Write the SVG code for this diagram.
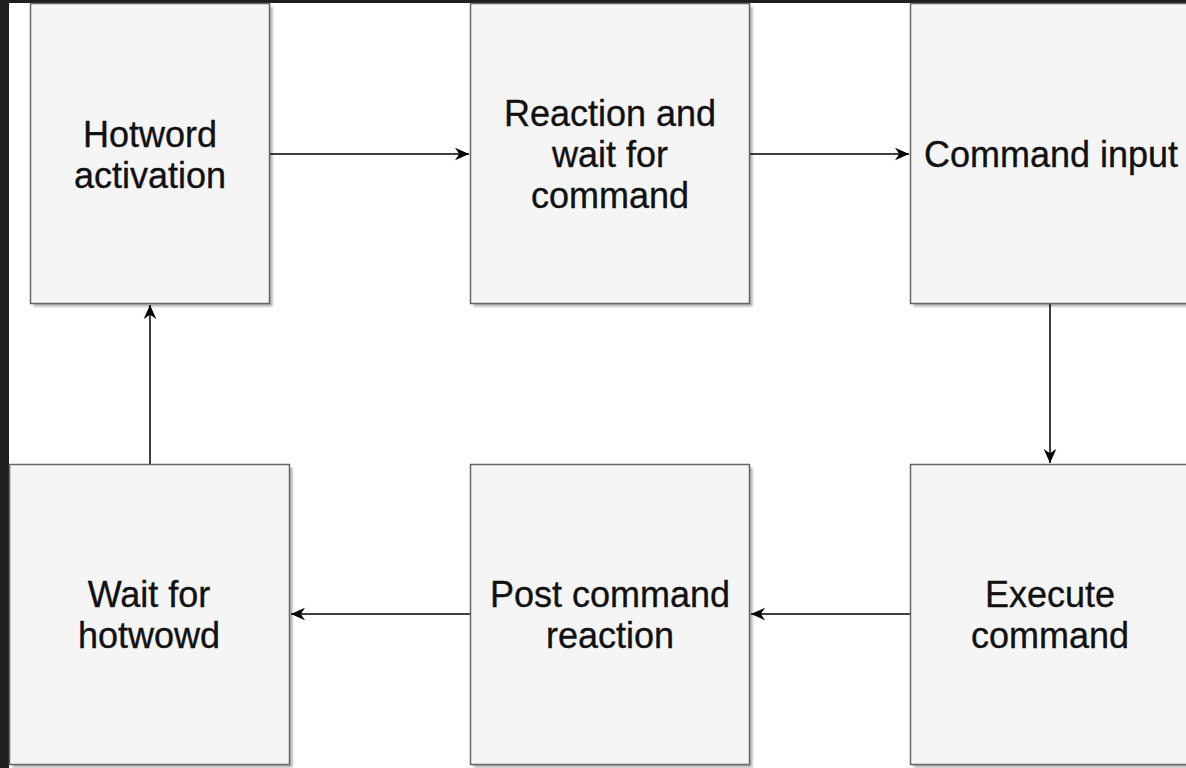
<svg xmlns="http://www.w3.org/2000/svg" width="1186" height="768" viewBox="0 0 1186 768">
  <defs>
    <style>
      .box { fill: #f5f5f5; stroke: #666666; stroke-width: 1.5; }
      .shadow { fill: #000000; opacity: 0.3; }
      .label { font-family: "Liberation Sans", Arial, Helvetica, sans-serif; font-size: 36px; fill: #111111; stroke: #111111; stroke-width: 0.35; text-anchor: middle; }
      .edge { stroke: #000000; stroke-width: 1.5; fill: none; }
    </style>
    <marker id="arrow" markerWidth="14" markerHeight="14" refX="10" refY="5" orient="auto" markerUnits="userSpaceOnUse" viewBox="0 0 10 10">
      <path d="M0,0.5 L10,5 L0,9.5 L3,5 Z" fill="#000000"/>
    </marker>
    <filter id="soft" x="-5%" y="-5%" width="110%" height="110%">
      <feGaussianBlur stdDeviation="0.8"/>
    </filter>
  </defs>

  <!-- page background with dark window frame -->
  <rect x="0" y="0" width="1186" height="768" fill="#1e1e1e"/>
  <rect x="9" y="3" width="1177" height="765" fill="#ffffff"/>

  <!-- connectors -->
  <g id="connectors">
    <line class="edge" x1="270" y1="154" x2="469" y2="154" marker-end="url(#arrow)"/>
    <line class="edge" x1="750" y1="154" x2="909" y2="154" marker-end="url(#arrow)"/>
    <line class="edge" x1="1050" y1="304" x2="1050" y2="463" marker-end="url(#arrow)"/>
    <line class="edge" x1="910" y1="614" x2="751" y2="614" marker-end="url(#arrow)"/>
    <line class="edge" x1="470" y1="614" x2="291" y2="614" marker-end="url(#arrow)"/>
    <line class="edge" x1="150" y1="464" x2="150" y2="305" marker-end="url(#arrow)"/>
  </g>

  <g id="hotword-activation">
    <rect class="shadow" filter="url(#soft)" x="33.5" y="6.5" width="239" height="300"/>
    <rect class="box" x="30.5" y="3.5" width="239" height="300"/>
    <text class="label" x="150" y="147">Hotword</text>
    <text class="label" x="150" y="188">activation</text>
  </g>

  <g id="reaction-wait">
    <rect class="shadow" filter="url(#soft)" x="473.5" y="6.5" width="279" height="300"/>
    <rect class="box" x="470.5" y="3.5" width="279" height="300"/>
    <text class="label" x="610" y="126">Reaction and</text>
    <text class="label" x="610" y="167">wait for</text>
    <text class="label" x="610" y="208">command</text>
  </g>

  <g id="command-input">
    <rect class="shadow" filter="url(#soft)" x="913.5" y="6.5" width="300" height="300"/>
    <rect class="box" x="910.5" y="3.5" width="300" height="300"/>
    <text class="label" x="1051" y="167">Command input</text>
  </g>

  <g id="wait-for-hotword">
    <rect class="shadow" filter="url(#soft)" x="12.5" y="467.5" width="280" height="300"/>
    <rect class="box" x="9.5" y="464.5" width="280" height="300"/>
    <text class="label" x="149" y="607">Wait for</text>
    <text class="label" x="149" y="648">hotwowd</text>
  </g>

  <g id="post-command-reaction">
    <rect class="shadow" filter="url(#soft)" x="473.5" y="467.5" width="279" height="300"/>
    <rect class="box" x="470.5" y="464.5" width="279" height="300"/>
    <text class="label" x="610" y="607">Post command</text>
    <text class="label" x="610" y="648">reaction</text>
  </g>

  <g id="execute-command">
    <rect class="shadow" filter="url(#soft)" x="913.5" y="467.5" width="300" height="300"/>
    <rect class="box" x="910.5" y="464.5" width="300" height="300"/>
    <text class="label" x="1050" y="607">Execute</text>
    <text class="label" x="1050" y="648">command</text>
  </g>
</svg>
